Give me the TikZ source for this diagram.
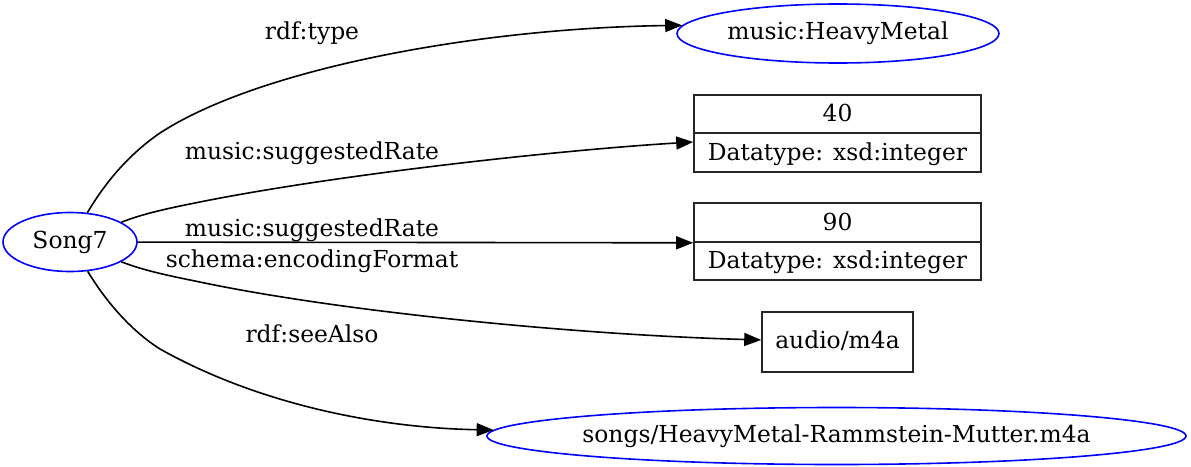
\documentclass[tikz,border=0pt]{standalone}
\usepackage{fontspec}
\setmainfont{DejaVu Serif}
\usetikzlibrary{arrows.meta,shapes.geometric}
\begin{document}
\begin{tikzpicture}[x=1pt,y=-1pt,
  every node/.style={font=\fontsize{23.4}{28}\selectfont},
  res/.style={ellipse,draw=blue,line width=1.6pt,inner sep=0pt,minimum height=59pt,text height=17pt,text depth=5pt},
  lit/.style={rectangle,draw=black!85,line width=1.6pt,inner sep=0pt,minimum width=287pt,text height=18pt,text depth=2.5pt},
  plain/.style={rectangle,draw=black!85,line width=1.6pt,inner sep=0pt,text height=17pt,text depth=5pt},
  lbl/.style={anchor=base,inner sep=0pt},
  edge/.style={line width=1.6pt,-{Triangle[length=17pt,width=13pt]}}
]
\useasboundingbox (0,0) rectangle (1191,466);
\node[res,minimum width=134pt] (song) at (70,242) {\makebox[0pt]{Song7}};
\node[res,minimum width=322pt] (hm) at (838,33.5) {\makebox[0pt]{music:HeavyMetal}};
\node[lit,minimum height=38pt] (v40) at (837.5,114) {40};
\node[lit,minimum height=39pt] (v40t) at (837.5,152.5) {Datatype: xsd:integer};
\node[lit,minimum height=39pt] (v90) at (837.5,222.5) {90};
\node[lit,minimum height=38pt] (v90t) at (837.5,261) {Datatype: xsd:integer};
\node[plain,minimum width=151pt,minimum height=60pt] (audio) at (837.5,342) {audio/m4a};
\node[res,minimum width=699pt,minimum height=57pt] (songs) at (836.5,436) {\makebox[0pt]{songs/HeavyMetal-Rammstein-Mutter.m4a}};

\draw[edge] (song) .. controls (105,183) and (128,155) .. (160,133) .. controls (260,68) and (480,28) .. (hm.177);
\draw[edge] (song) .. controls (140,215) and (160,210) .. (190,204) .. controls (330,175) and (560,150) .. ([yshift=10.5pt]v40t.west);
\draw[edge] (song) -- (v90.south west);
\draw[edge] (song) .. controls (140,269) and (160,274) .. (195,281) .. controls (340,312) and (580,335) .. (audio);
\draw[edge] (song) .. controls (105,300) and (130,330) .. (160,349) .. controls (260,405) and (380,428) .. (songs);

\node[lbl] (l1) at (312,39) {rdf:type};
\node[lbl] (l2) at (312,159) {music:suggestedRate};
\node[lbl] (l3) at (312,236) {music:suggestedRate};
\node[lbl] (l4) at (312,267) {schema:encodingFormat};
\node[lbl] (l5) at (312,342) {rdf:seeAlso};
\end{tikzpicture}
\end{document}
